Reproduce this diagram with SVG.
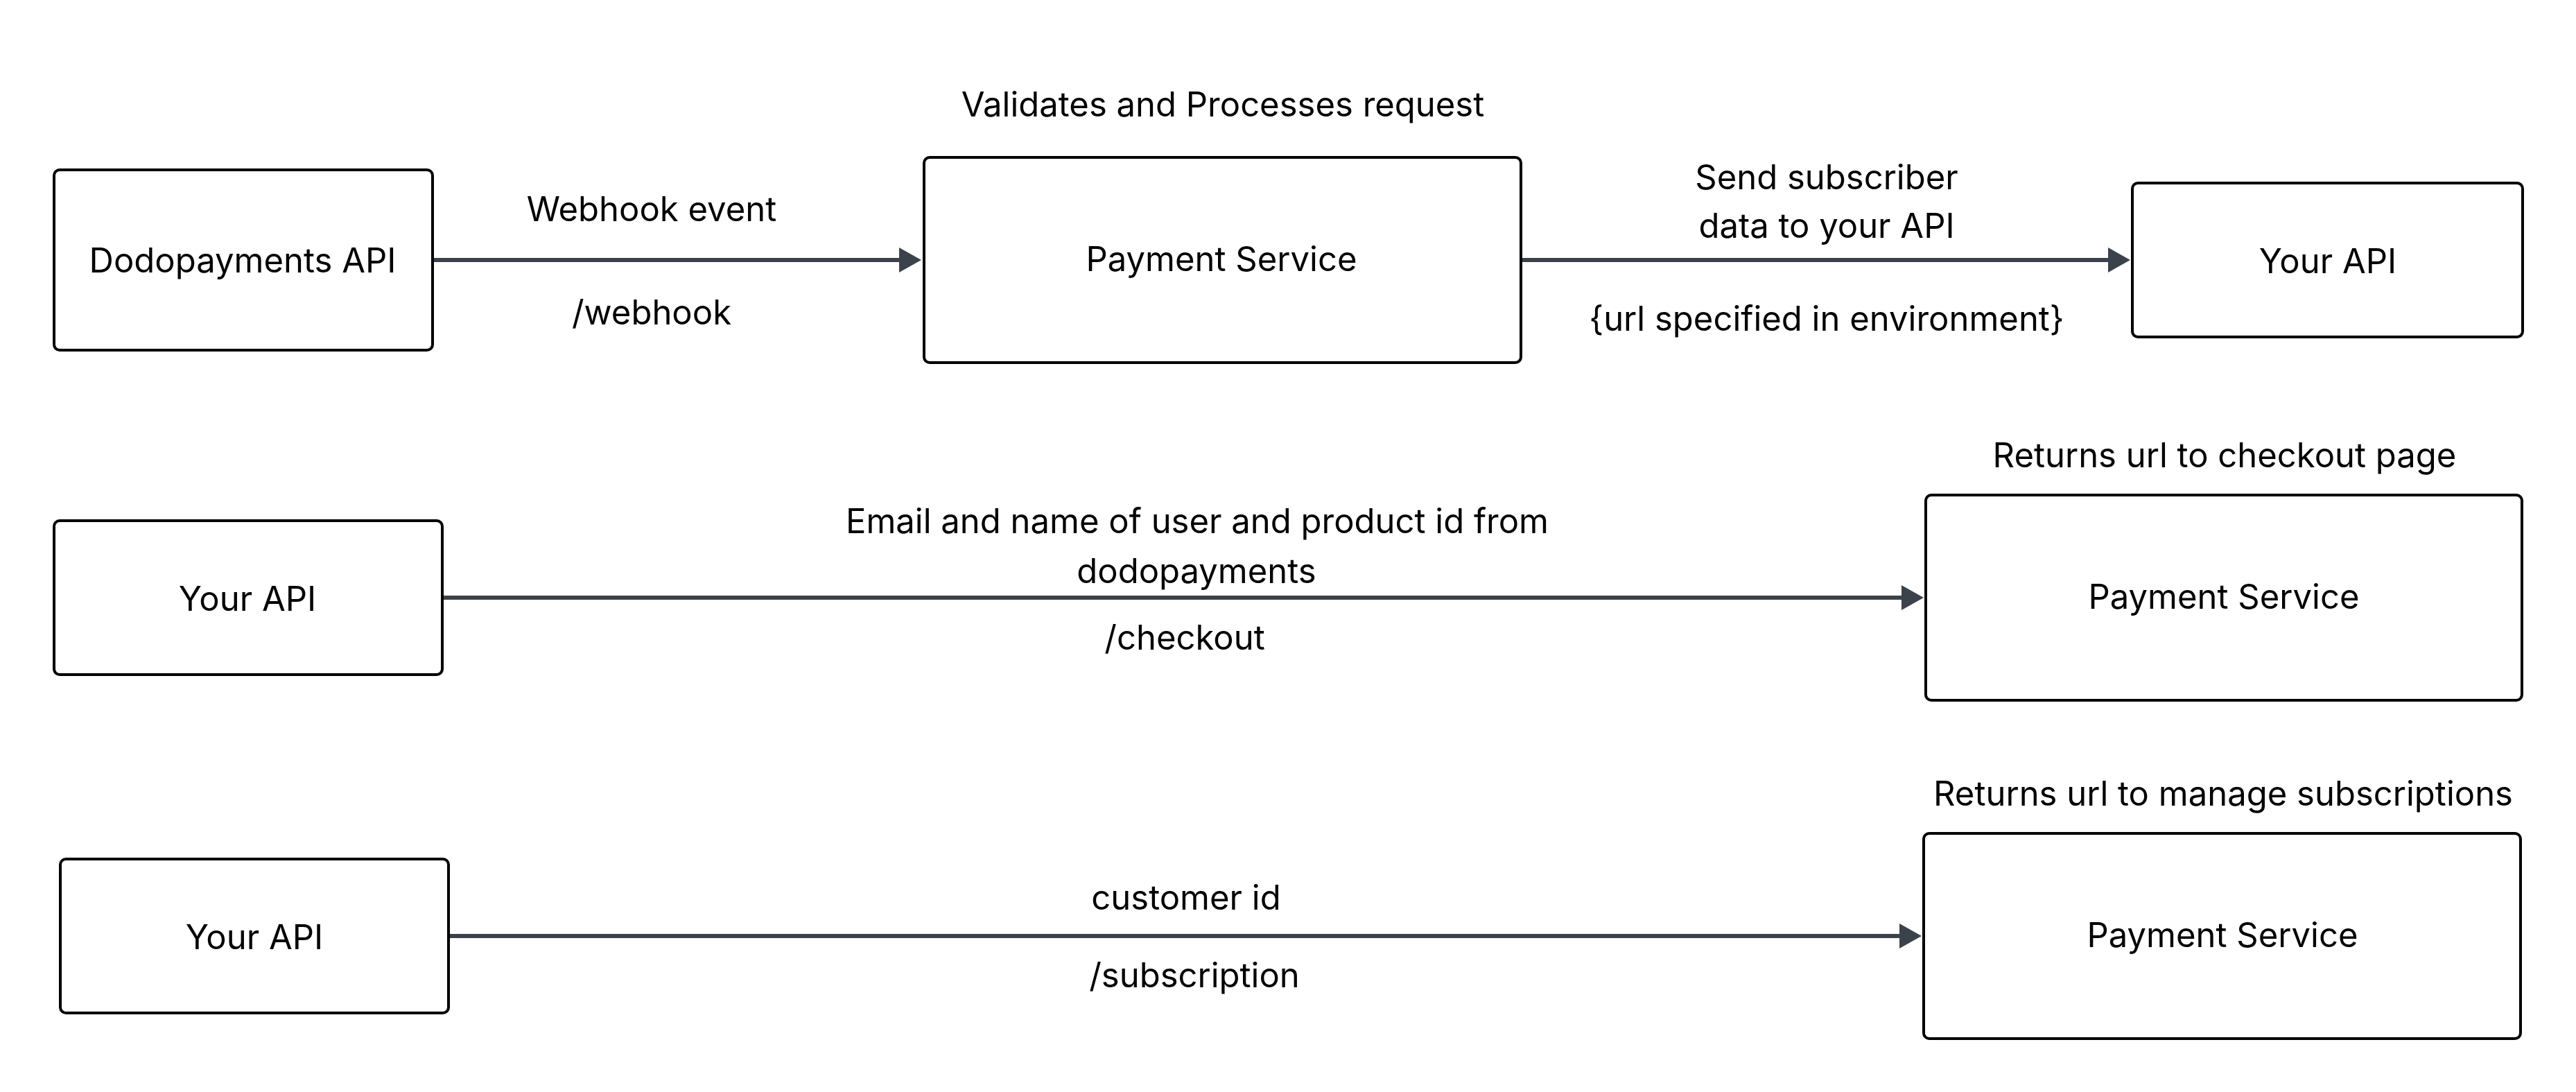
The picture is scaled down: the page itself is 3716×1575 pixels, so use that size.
<svg xmlns="http://www.w3.org/2000/svg" width="3716" height="1575" viewBox="0 0 3716 1575">
<style>
.box{fill:#ffffff;stroke:#000000;stroke-width:4}
.t{font-family:Inter,"Noto Sans","Liberation Sans",sans-serif;font-size:49px;fill:#000000;text-anchor:middle}
.edge{stroke:#3c424b;stroke-width:6;fill:none}
</style>
<defs>
<marker id="ah" markerUnits="userSpaceOnUse" markerWidth="34" markerHeight="38" refX="14" refY="19" orient="auto" viewBox="0 0 34 38">
<path d="M1,1 L33,19 L1,37 Z" fill="#3c424b"/>
</marker>
</defs>
<rect width="3716" height="1575" fill="#ffffff"/>
<g id="connectors">
<g id="e1"><line class="edge" x1="626" y1="375" x2="1310" y2="375" marker-end="url(#ah)"/>
<text class="t" x="940" y="319">Webhook event</text>
<text class="t" x="940" y="468">/webhook</text></g>
<g id="e2"><line class="edge" x1="2196" y1="375" x2="3054" y2="375" marker-end="url(#ah)"/>
<text class="t" x="2635" y="273">Send subscriber</text>
<text class="t" x="2635" y="343">data to your API</text>
<text class="t" x="2635" y="477">{url specified in environment}</text></g>
<g id="e3"><line class="edge" x1="640" y1="862" x2="2756" y2="862" marker-end="url(#ah)"/>
<text class="t" x="1727" y="769">Email and name of user and product id from</text>
<text class="t" x="1726" y="841">dodopayments</text>
<text class="t" x="1709" y="937">/checkout</text></g>
<g id="e4"><line class="edge" x1="649" y1="1350" x2="2753" y2="1350" marker-end="url(#ah)"/>
<text class="t" x="1711" y="1312">customer id</text>
<text class="t" x="1723" y="1424">/subscription</text></g>
</g>
<g id="n1"><rect class="box" x="78" y="245" width="546" height="260" rx="8"/><text class="t" x="350" y="393">Dodopayments API</text></g>
<g id="n2"><rect class="box" x="1333" y="227" width="861" height="296" rx="8"/><text class="t" x="1762" y="391">Payment Service</text>
<text class="t" x="1764" y="168">Validates and Processes request</text></g>
<g id="n3"><rect class="box" x="3076" y="264" width="563" height="222" rx="8"/><text class="t" x="3358" y="394">Your API</text></g>
<g id="n4"><rect class="box" x="78" y="751" width="560" height="222" rx="8"/><text class="t" x="357" y="881">Your API</text></g>
<g id="n5"><rect class="box" x="2778" y="714" width="860" height="296" rx="8"/><text class="t" x="3208" y="878">Payment Service</text>
<text class="t" x="3209" y="674">Returns url to checkout page</text></g>
<g id="n6"><rect class="box" x="87" y="1239" width="560" height="222" rx="8"/><text class="t" x="367" y="1369">Your API</text></g>
<g id="n7"><rect class="box" x="2775" y="1202" width="861" height="296" rx="8"/><text class="t" x="3206" y="1366">Payment Service</text>
<text class="t" x="3207" y="1162">Returns url to manage subscriptions</text></g>
</svg>
